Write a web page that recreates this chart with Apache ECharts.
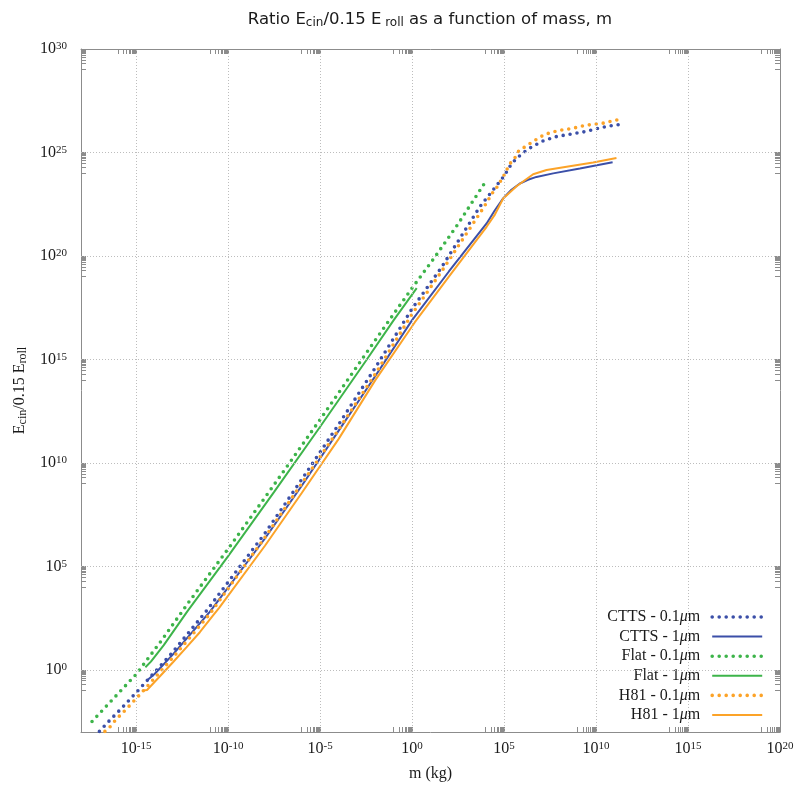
<!DOCTYPE html>
<html><head><meta charset="utf-8">
<script src="https://cdn.jsdelivr.net/npm/echarts@6/dist/echarts.min.js"></script>
<style>html,body{margin:0;padding:0;background:#fff}#chart{width:798px;height:793px}</style>
</head><body><div id="chart"></div>
<script>
// ---- data (log10 of mass in kg, log10 of ratio) ----
const seriesNames = ['CTTS - 0.1μm','CTTS - 1μm','Flat - 0.1μm','Flat - 1μm','H81 - 0.1μm','H81 - 1μm'];

const cttsThinLogM = [-17.0,-16.4,-15.8,-14.9,-13.1,-11.2,-8.0,-6.0,-4.0,-2.0,0.0,1.6,3.7,5.0,5.3,5.6,6.0,6.5,7.1,7.8,8.5,9.3,10.0,10.7,11.2];
const cttsThinLogE = [-2.97,-2.4,-1.86,-1.0,0.77,2.83,6.6,9.2,11.85,14.6,17.45,19.45,22.4,23.86,24.31,24.64,24.96,25.27,25.55,25.76,25.87,25.99,26.14,26.28,26.34];

const cttsThickLogM = [-14.4,-14.0,-13.0,-11.0,-8.0,-6.0,-4.0,-2.0,0.0,2.0,4.05,4.5,4.95,5.4,5.86,6.3,6.76,7.67,9.12,10.9];
const cttsThickLogE = [-0.5,-0.2,0.75,2.8,6.35,8.9,11.55,14.2,16.9,19.25,21.57,22.21,22.78,23.2,23.5,23.68,23.82,23.99,24.23,24.53];

const flatThinLogM = [-17.4,-16.2,-15.0,-13.6,-12.2,-10.0,-7.5,-5.0,-2.5,-1.0,0.0,1.2,2.5,4.0];
const flatThinLogE = [-2.49,-1.35,-0.21,1.45,3.2,5.85,8.95,12.1,15.3,17.2,18.45,19.9,21.55,23.6];

const flatThickLogM = [-14.5,-14.2,-13.5,-12.2,-10.0,-7.5,-5.0,-2.5,-1.0,0.25];
const flatThickLogE = [0.13,0.4,1.2,2.85,5.5,8.6,11.75,14.95,16.9,18.45];

const h81ThinLogM = [-16.7,-16.4,-16.1,-15.8,-15.5,-15.2,-14.9,-13.0,-11.0,-8.0,-6.0,-4.0,-2.0,0.0,1.6,3.86,4.35,4.6,4.95,5.3,5.6,5.8,6.2,6.7,7.2,7.9,8.7,9.4,10.5,10.9,11.3];
const h81ThinLogE = [-2.97,-2.73,-2.4,-2.13,-1.86,-1.57,-1.29,0.6,2.7,6.4,9.0,11.6,14.3,17.2,19.25,22.3,23.02,23.31,23.82,24.44,24.76,25.08,25.31,25.6,25.87,26.05,26.16,26.31,26.43,26.53,26.6];

const h81ThickLogM = [-14.63,-14.41,-13.72,-13.0,-12.27,-11.54,-10.82,-10.49,-8.0,-6.0,-4.0,-2.0,0.15,2.0,4.05,4.5,4.95,5.68,6.58,7.31,8.4,9.84,11.11];
const h81ThickLogE = [-1.0,-0.97,-0.32,0.37,1.09,1.82,2.63,3.0,6.0,8.55,11.15,14.0,16.8,19.0,21.41,22.0,22.78,23.37,23.95,24.15,24.31,24.52,24.73];

// tick labels (exponents)
const xTickExps = [-15,-10,-5,0,5,10,15,20];
const yTickExps = [0,5,10,15,20,25,30];
const xRange = [-18, 20];
const yRange = [-3, 30];

// ---- helpers ----
const zip = (a, b) => a.map((v, i) => [v, b[i]]);
function minorTicks(majors, lo, hi) {
  const out = [];
  majors.forEach(n => {
    out.push(n);
    for (let k = 1; k <= 9; k++) {
      const v = n - 1 + Math.log10(k);
      if (v >= lo && v <= hi) out.push(v);
    }
  });
  return out;
}
const xTickVals = minorTicks(xTickExps, xRange[0], xRange[1]);
const yTickVals = minorTicks(yTickExps, yRange[0], yRange[1]);

const BLUE = '#3b4fa8', GREEN = '#3db44a', ORANGE = '#fca328';
const SERIF = 'Liberation Serif';
const TXT = '#1a1a1a';
const AX = '#8c8c8c';
const DOT_W = 3.6, DOT_DASH = [0, 7], SOLID_W = 2;

const expRich = {
  b: {fontFamily: SERIF, fontSize: 16, color: TXT, lineHeight: 16, verticalAlign: 'bottom'},
  s: {fontFamily: SERIF, fontSize: 11, color: TXT, lineHeight: 11, verticalAlign: 'top', padding: [0, 0, 7, 0]}
};
const expFmt = v => '{b|10}{s|' + Math.round(v) + '}';

function dotted(name, color, lx, ly) {
  return {type: 'line', name, data: zip(lx, ly), symbol: 'none', showSymbol: false, z: 3,
    color, lineStyle: {color, width: DOT_W, type: DOT_DASH, cap: 'round'}, animation: false};
}
function solid(name, color, lx, ly) {
  return {type: 'line', name, data: zip(lx, ly), symbol: 'none', showSymbol: false, z: 3,
    color, lineStyle: {color, width: SOLID_W}, animation: false};
}

const gridSeries = {
  type: 'line', name: '_grid', data: [[xRange[0], yRange[0]]], symbol: 'none', showSymbol: false,
  silent: true, z: 1, lineStyle: {width: 0}, animation: false,
  markLine: {
    silent: true, symbol: ['none', 'none'], label: {show: false}, animation: false,
    lineStyle: {color: '#bdbdbd', type: [1, 2], width: 1},
    emphasis: {disabled: true},
    data: xTickExps.filter(v => v > xRange[0] && v < xRange[1]).map(v => ({xAxis: v}))
      .concat(yTickExps.filter(v => v > yRange[0] && v < yRange[1]).map(v => ({yAxis: v})))
  }
};

const chart = echarts.init(document.getElementById('chart'), null, {renderer: 'canvas'});
const common = {
  type: 'value', interval: 1,
  axisLine: {show: true, onZero: false, lineStyle: {color: AX, width: 1}},
  splitLine: {show: false}
};
chart.setOption({
  animation: false,
  backgroundColor: '#fff',
  title: {
    text: 'Ratio E{sub|cin}/0.15 E{sub| roll} as a function of mass, m',
    left: 425, top: 6, textAlign: 'center',
    textStyle: {fontFamily: 'DejaVu Sans', fontSize: 16.5, fontWeight: 'normal', color: TXT,
      rich: {sub: {fontFamily: 'DejaVu Sans', fontSize: 12, color: TXT, verticalAlign: 'bottom', padding: [6, 0, 0, 0]}}}
  },
  grid: {left: 81, right: 18, top: 49, bottom: 61, containLabel: false},
  xAxis: [
    Object.assign({}, common, {
      position: 'bottom', min: xRange[0], max: xRange[1],
      name: 'm (kg)', nameLocation: 'middle', nameGap: 34,
      nameTextStyle: {fontFamily: SERIF, fontSize: 16, color: TXT},
      axisTick: {show: true, inside: true, length: 5, customValues: xTickVals, lineStyle: {color: AX}},
      axisLabel: {show: true, margin: 9, customValues: xTickExps, formatter: expFmt, rich: expRich}
    }),
    Object.assign({}, common, {
      position: 'top', min: xRange[0], max: xRange[1],
      axisTick: {show: true, inside: true, length: 5, customValues: xTickVals, lineStyle: {color: AX}},
      axisLabel: {show: false}
    })
  ],
  yAxis: [
    Object.assign({}, common, {
      position: 'left', min: yRange[0], max: yRange[1],
      name: 'E{sub|cin}/0.15 E{sub|roll}', nameLocation: 'middle', nameGap: 47, nameRotate: 90,
      nameTextStyle: {fontFamily: SERIF, fontSize: 16, color: TXT,
        rich: {sub: {fontFamily: SERIF, fontSize: 12, color: TXT, verticalAlign: 'bottom', padding: [6, 0, 0, 0]}}},
      axisTick: {show: true, inside: true, length: 5, customValues: yTickVals, lineStyle: {color: AX}},
      axisLabel: {show: true, margin: 14, customValues: yTickExps, formatter: expFmt, rich: expRich}
    }),
    Object.assign({}, common, {
      position: 'right', min: yRange[0], max: yRange[1],
      axisTick: {show: true, inside: true, length: 5, customValues: yTickVals, lineStyle: {color: AX}},
      axisLabel: {show: false}
    })
  ],
  legend: {
    orient: 'vertical', right: 24, top: 607, align: 'right',
    itemWidth: 50, itemHeight: 12, itemGap: 3.6,
    padding: [2, 10, 2, 15], backgroundColor: '#fff',
    itemStyle: {opacity: 0},
    data: seriesNames.map(n => ({name: n, lineStyle: {width: n.indexOf('0.1') >= 0 ? DOT_W : SOLID_W}})),
    formatter: n => n.replace('μ', '{mu|μ}'),
    textStyle: {fontFamily: SERIF, fontSize: 16, color: TXT, lineHeight: 16, padding: [0, 7, 0, 0],
      rich: {mu: {fontFamily: SERIF, fontStyle: 'italic', fontSize: 16, color: TXT}}}
  },
  series: [
    gridSeries,
    dotted(seriesNames[0], BLUE, cttsThinLogM, cttsThinLogE),
    solid(seriesNames[1], BLUE, cttsThickLogM, cttsThickLogE),
    dotted(seriesNames[2], GREEN, flatThinLogM, flatThinLogE),
    solid(seriesNames[3], GREEN, flatThickLogM, flatThickLogE),
    dotted(seriesNames[4], ORANGE, h81ThinLogM, h81ThinLogE),
    solid(seriesNames[5], ORANGE, h81ThickLogM, h81ThickLogE)
  ]
});
</script>
</body></html>
